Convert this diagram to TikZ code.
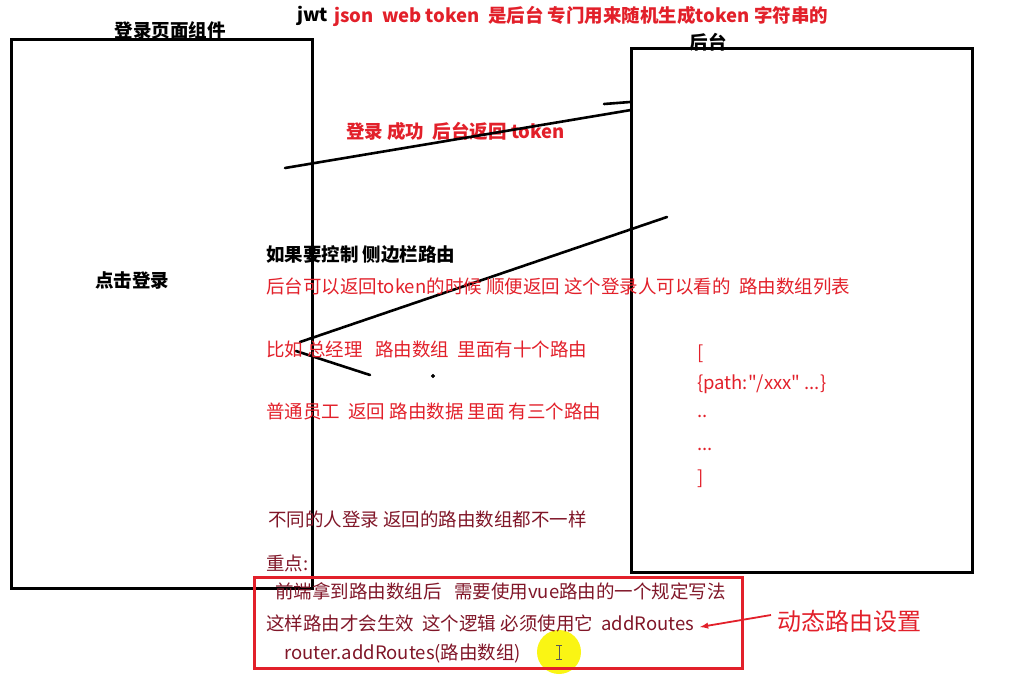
\documentclass[tikz,border=0pt]{standalone}
\usepackage{fontspec}
\setmainfont{Noto Sans CJK SC}
\newfontfamily\rawquote{Noto Sans CJK SC}
\usepackage{xcolor}
\usetikzlibrary{positioning}
\definecolor{notered}{RGB}{226,32,42}
\definecolor{noteplum}{RGB}{128,22,40}
\definecolor{cursoryellow}{RGB}{250,245,20}
\tikzset{
  head/.style={anchor=west, inner sep=0pt, font=\fontsize{18.5}{21}\selectfont\bfseries},
  note/.style={anchor=west, inner sep=0pt, text=notered, font=\fontsize{18.5}{21}\selectfont},
  keynote/.style={anchor=west, inner sep=0pt, text=noteplum, font=\fontsize{18.5}{21}\selectfont},
  pane/.style={draw=black, line width=3pt},
  stroke/.style={draw=black, line width=2.6pt, line cap=round}
}

\begin{document}
\begin{tikzpicture}[x=1pt,y=-1pt]
\useasboundingbox (0,0) rectangle (1011,686);
\draw[pane] (11,39) rectangle (312,588);
\draw[pane] (631,48) rectangle (972,572);
\node[head, anchor=center] (pagetitle) at (170,30) {登录页面组件};
\node[head, anchor=center] (servertitle) at (708,42) {后台};
\node[head] (jwt) at (297,16) {jwt};
\node[head, text=notered] (jwtnote) at (334,16) {json\ \ web token\ \ 是后台 专门用来随机生成token 字符串的};
\node[head, anchor=center] (clicklogin) at (132,281) {点击登录};
\node[head, text=notered] (loginok) at (346,131) {登录 成功\ \ 后台返回 token};

\coordinate (tokenfrom) at (285,168);
\coordinate (tokento) at (631,110);
\coordinate (tickfrom) at (604,104);
\coordinate (tickto) at (630,102);
\draw[stroke] (tokenfrom) -- (tokento);
\draw[stroke] (tickfrom) -- (tickto);
\coordinate (routesfrom) at (667,217);
\coordinate (routesmid) at (300,342);
\coordinate (routesbend) at (296,351);
\coordinate (routesto) at (370,375);
\draw[stroke] (routesfrom) -- (routesmid);
\draw[stroke] (routesbend) -- (routesto);
\filldraw[black] (433,376) circle (1.8pt);

\node[head] (sidebar) at (266,255) {如果要控制 侧边栏路由};
\node[note] (backlist) at (266,286) {后台可以返回token的时候 顺便返回 这个登录人可以看的\ \ 路由数组列表};
\node[note] (manager) at (266,349) {比如 总经理\ \ \ 路由数组\ \ 里面有十个路由};
\node[note] (staff) at (266,411) {普通员工\ \ 返回 路由数据 里面 有三个路由};
\node[keynote] (differ) at (268,519) {不同的人登录 返回的路由数组都不一样};
\node[keynote] (keypoint) at (266,563) {重点:};

\node[note] (open) at (697,354) {[};
\node[note] (pathitem) at (697,384) {\{path:{\rawquote"}/xxx{\rawquote"}\ ...\}};
\node[note] (dots) at (697,416) {..};
\node[note] (dotsmore) at (697,449) {...};
\node[note] (close) at (697,479) {]};

\fill[cursoryellow] (559,652) circle (22);
\draw[line width=1pt, gray!70!black] (559,645) -- (559,659) (556,645) -- (562,645) (556,659) -- (562,659);
\draw[draw=notered, line width=3pt] (254,577) rectangle (742,668);
\node[keynote] (frontend) at (275,591) {前端拿到路由数组后\ \ \ 需要使用vue路由的一个规定写法};
\node[keynote] (logic) at (266,623) {这样路由才会生效\ \ 这个逻辑 必须使用它\ \ addRoutes};
\node[keynote] (usage) at (284,654) {router.addRoutes(路由数组)};

\node[note, font=\fontsize{24}{27}\selectfont] (dynamic) at (777,621) {动态路由设置};
\draw[draw=notered, line width=1.8pt, -latex] (dynamic.west) ++(-6,-6) -- (700,627);
\end{tikzpicture}
\end{document}
